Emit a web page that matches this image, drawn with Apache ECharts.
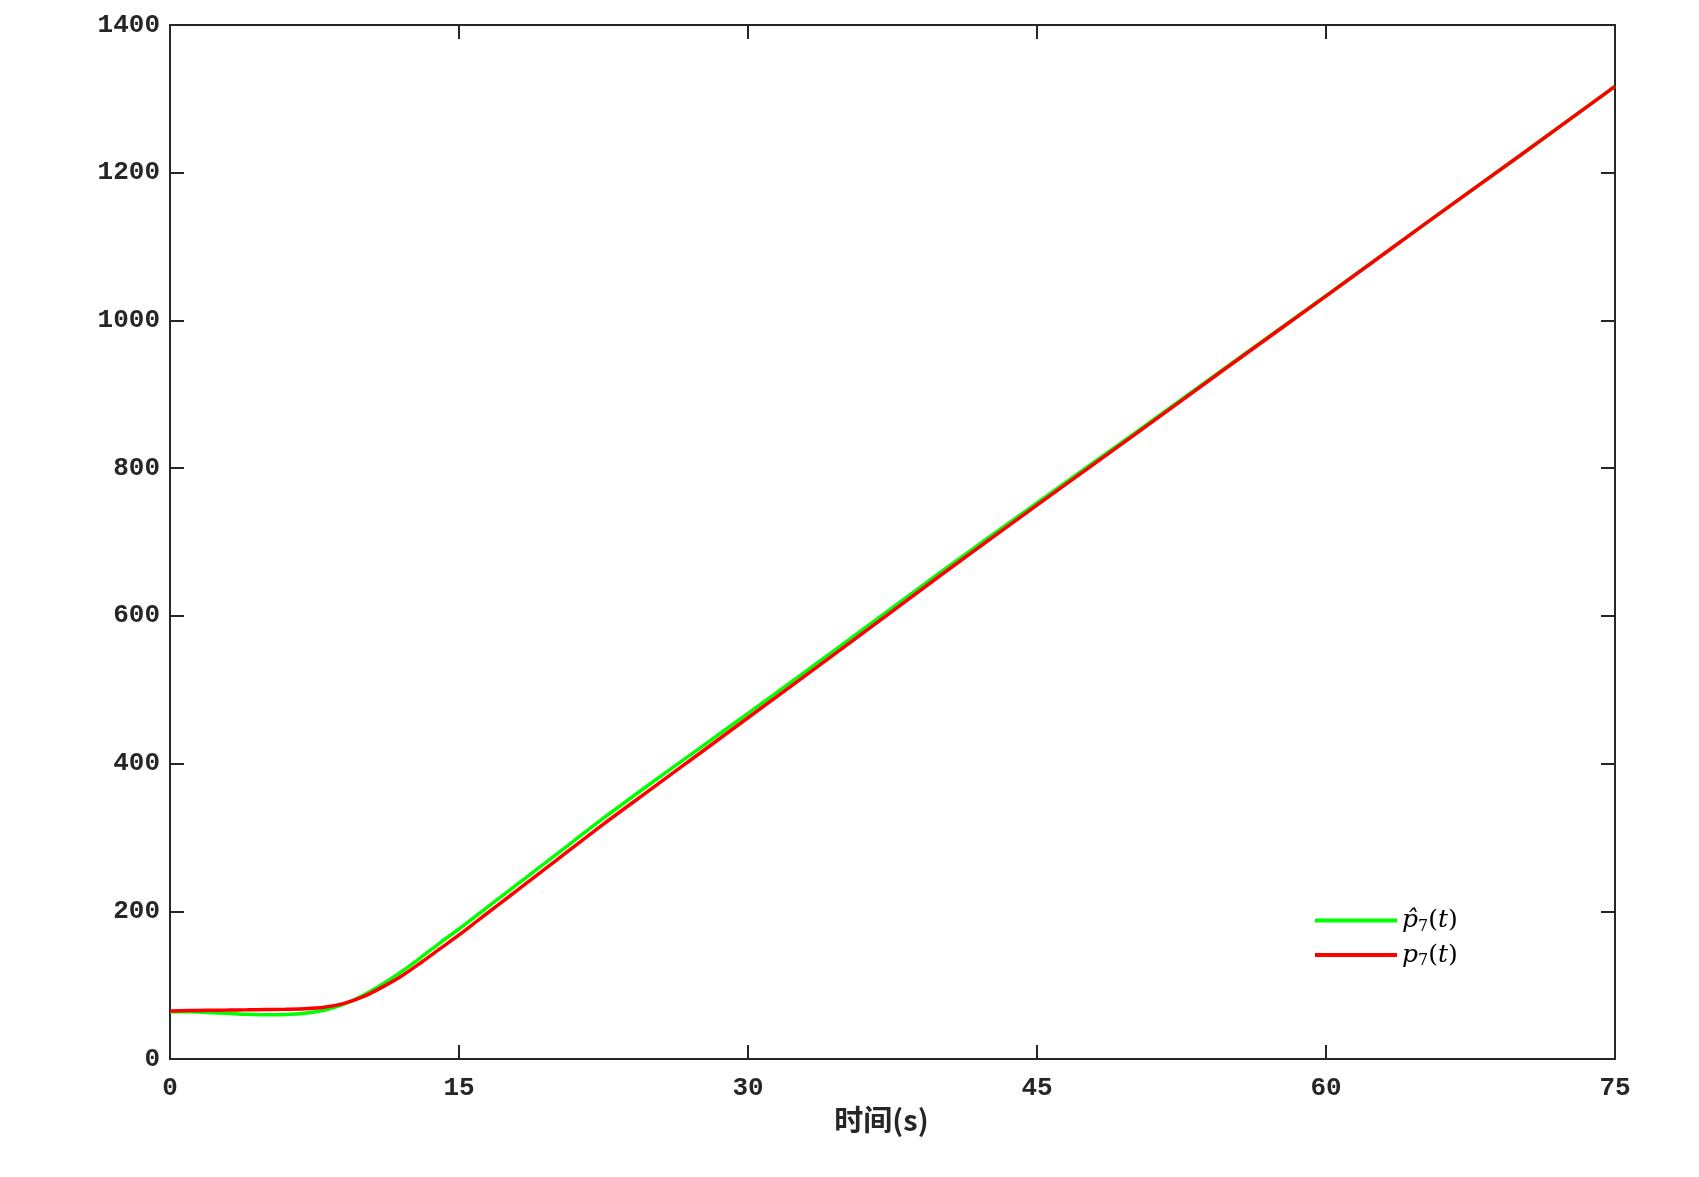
<!DOCTYPE html>
<html>
<head>
<meta charset="utf-8">
<script src="https://cdn.jsdelivr.net/npm/echarts@6/dist/echarts.min.js"></script>
<style>
html,body{margin:0;padding:0;background:#fff;}
#c{width:1699px;height:1177px;}
</style>
</head>
<body>
<div id="c"></div>
<script>
const times = [0,1,2,3,4,5,6,7,8,9,10,11,12,13,14,15,16,17,18,19,20,22.5,25,27.5,30,35,40,45,50,55,60,65,70,75];
const pHat7 = [64,64,63,61.8,60.6,60,60.3,62,66,74,86,101,118,137,157,176,196,216,236,256,276,326,374,421,468,563,659,753,846,940,1033.5,1128,1222,1317];
const p7 = [65,65.5,66,66.3,66.6,67,67.3,68,70,75,84,97,112,130,149,168,188,208,228,248,268,318,366,414,462,558,655,750,844,939,1033,1128,1222,1317];
const xTicks = [0,15,30,45,60,75];
const yTicks = [0,200,400,600,800,1000,1200,1400];
const seriesNames = ['p\u0302', 'p'];

const axisColor = '#262626';
const labelFont = {fontFamily:'Liberation Mono', fontWeight:'bold', fontSize:26, color:axisColor};

const chart = echarts.init(document.getElementById('c'), null, {renderer:'canvas'});
function pairs(vals){ return times.map((t,i)=>[t, vals[i]]); }

chart.setOption({
  animation:false,
  backgroundColor:'#fff',
  grid:{left:170, right:84, top:25, bottom:118},
  legend:{
    orient:'vertical', left:1310, top:903, itemGap:8,
    itemWidth:82, itemHeight:4, icon:'rect',
    data: seriesNames,
    formatter: function(n){ return '{i|'+n+'}{s|7}{n|(}{i|t}{n|)}'; },
    textStyle:{
      rich:{
        i:{fontFamily:'DejaVu Serif', fontStyle:'italic', fontSize:25, color:'#000'},
        n:{fontFamily:'DejaVu Serif', fontSize:25, color:'#000'},
        s:{fontFamily:'DejaVu Serif', fontSize:16, color:'#000', padding:[12,0,0,0]}
      }
    }
  },
  xAxis:[{
    type:'value', min:0, max:75, interval:15,
    name:'时间(s)', nameLocation:'middle', nameGap:41,
    nameTextStyle:{fontFamily:'Noto Sans CJK SC', fontWeight:'bold', fontSize:29, color:axisColor, padding:[0,22,0,0]},
    axisLine:{show:true, onZero:false, lineStyle:{color:axisColor, width:2}},
    axisTick:{show:true, inside:true, length:14, lineStyle:{color:axisColor, width:2}},
    axisLabel:Object.assign({margin:16, formatter:v=>xTicks.includes(v)?String(v):''}, labelFont),
    splitLine:{show:false}
  },{
    type:'value', min:0, max:75, interval:15, position:'top',
    axisLine:{show:true, onZero:false, lineStyle:{color:axisColor, width:2}},
    axisTick:{show:true, inside:true, length:14, lineStyle:{color:axisColor, width:2}},
    axisLabel:{show:false}, splitLine:{show:false}
  }],
  yAxis:[{
    type:'value', min:0, max:1400, interval:200,
    axisLine:{show:true, onZero:false, lineStyle:{color:axisColor, width:2}},
    axisTick:{show:true, inside:true, length:14, lineStyle:{color:axisColor, width:2}},
    axisLabel:Object.assign({margin:10, formatter:v=>yTicks.includes(v)?String(v):''}, labelFont),
    splitLine:{show:false}
  },{
    type:'value', min:0, max:1400, interval:200, position:'right',
    axisLine:{show:true, onZero:false, lineStyle:{color:axisColor, width:2}},
    axisTick:{show:true, inside:true, length:14, lineStyle:{color:axisColor, width:2}},
    axisLabel:{show:false}, splitLine:{show:false}
  }],
  series:[{
    name:seriesNames[0], type:'line', data:pairs(pHat7), showSymbol:false, smooth:0.3,
    lineStyle:{color:'#00ff00', width:3.5}, itemStyle:{color:'#00ff00'}
  },{
    name:seriesNames[1], type:'line', data:pairs(p7), showSymbol:false, smooth:0.3,
    lineStyle:{color:'#ff0000', width:3.5}, itemStyle:{color:'#ff0000'}
  }]
});
</script>
</body>
</html>
